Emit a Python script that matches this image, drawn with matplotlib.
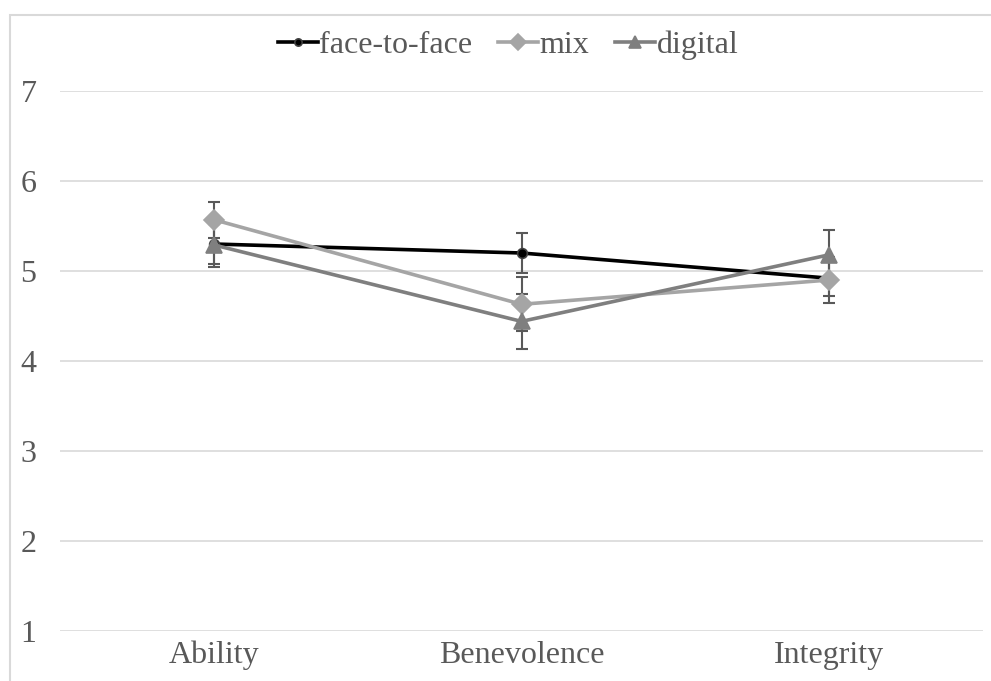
import matplotlib.pyplot as plt
from matplotlib.patches import Rectangle

# Data
categories = ["Ability", "Benevolence", "Integrity"]
face_to_face = [5.30, 5.20, 4.92]
face_to_face_err = [0.22, 0.22, 0.20]
mix = [5.57, 4.63, 4.90]
mix_err = [0.20, 0.30, 0.26]
digital = [5.29, 4.44, 5.18]
digital_err = [0.25, 0.31, 0.28]
y_ticks = [1, 2, 3, 4, 5, 6, 7]

plt.rcParams["font.family"] = ["Liberation Serif", "DejaVu Serif"]

W, H = 991, 681
fig = plt.figure(figsize=(W / 100, H / 100), dpi=100)
ax = fig.add_axes([60 / W, (H - 631) / H, (983 - 60) / W, 540 / H])

# chart border (cropped at right/bottom)
fig.patches.append(Rectangle((10 / W, -0.1), 1.2, (H - 15) / H + 0.1,
                             transform=fig.transFigure, fill=False,
                             edgecolor="#D9D9D9", linewidth=1.5))

x = range(len(categories))
series = [
    ("face-to-face", face_to_face, face_to_face_err, "black", "o", 7),
    ("mix", mix, mix_err, "#A5A5A5", "D", 10.5),
    ("digital", digital, digital_err, "#7F7F7F", "^", 11),
]

for i, (name, vals, errs, color, marker, ms) in enumerate(series):
    ax.errorbar(x, vals, yerr=errs, fmt="none", ecolor="#595959",
                elinewidth=1.5, capsize=4, capthick=1.5, zorder=2 + i)
for i, (name, vals, errs, color, marker, ms) in enumerate(series):
    ax.plot(x, vals, color=color, linewidth=2.6, marker=marker,
            markersize=ms, markerfacecolor=color,
            markeredgecolor="#404040" if name == "face-to-face" else color,
            markeredgewidth=1.2,
            label=name, zorder=5 + i)

ax.set_xlim(-0.5, 2.5)
ax.set_ylim(1, 7)
ax.set_yticks(y_ticks)
ax.set_xticks(list(x))
ax.set_xticklabels(categories)
ax.yaxis.grid(True, color="#D9D9D9", linewidth=1.2)
ax.set_axisbelow(True)
for s in ax.spines.values():
    s.set_visible(False)
ax.tick_params(length=0, labelsize=23, labelcolor="#595959")
ax.tick_params(axis="y", pad=17)
ax.tick_params(axis="x", pad=7)

leg = fig.legend(loc="center", bbox_to_anchor=(508 / W, (H - 45) / H), ncol=3,
                 frameon=False, fontsize=23, handlelength=1.25,
                 handletextpad=0.05, columnspacing=0.8, borderpad=0,
                 markerscale=0.75)
for t in leg.get_texts():
    t.set_color("#595959")

fig.savefig("out.png", dpi=100)
